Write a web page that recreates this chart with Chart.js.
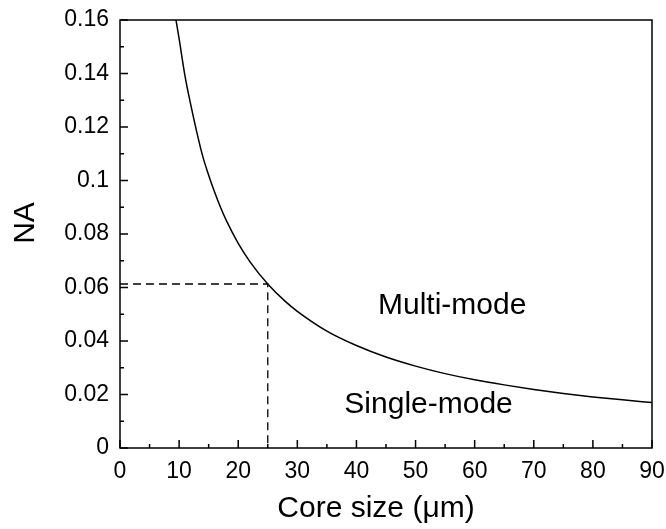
<!DOCTYPE html>
<html>
<head>
<meta charset="utf-8">
<script src="https://cdn.jsdelivr.net/npm/chart.js@4"></script>
<style>
  html, body { margin: 0; padding: 0; background: #fff; }
  #wrap { width: 666px; height: 529px; }
</style>
</head>
<body>
<div id="wrap"><canvas id="naChart" width="666" height="529"></canvas></div>
<script>
'use strict';
// values
var coreSize = [9.47, 10, 11, 12, 13, 14, 15, 16, 17, 18, 20, 22, 25, 28, 30, 35, 40, 45, 50, 55, 60, 65, 70, 75, 80, 85, 90];
var naValues = [0.160, 0.153, 0.139, 0.128, 0.118, 0.109, 0.102, 0.0957, 0.090, 0.085, 0.0765, 0.0696, 0.0613, 0.0547, 0.0511, 0.0437, 0.0383, 0.034, 0.0306, 0.0278, 0.0255, 0.0236, 0.0219, 0.0204, 0.0191, 0.018, 0.017];
var cutoffX = [0, 25, 25];
var cutoffY = [0.0613, 0.0613, 0];
var xTicks = [0, 10, 20, 30, 40, 50, 60, 70, 80, 90];
var yTicks = [0, 0.02, 0.04, 0.06, 0.08, 0.1, 0.12, 0.14, 0.16];
var regionNames = ['Multi-mode', 'Single-mode'];
var regionX = [56.2, 52.2];
var regionY = [0.0531, 0.0161];
var xTitle = 'Core size (μm)';
var yTitle = 'NA';

var FONT = 'Arial, "Liberation Sans", sans-serif';

function toPoints(xs, ys) {
  var pts = [];
  for (var i = 0; i < xs.length; i++) {
    pts.push({ x: xs[i], y: ys[i] });
  }
  return pts;
}

// box, inward ticks, axis titles and region labels
var framePlugin = {
  id: 'frame',
  afterDraw: function (chart) {
    var c = chart.ctx;
    var a = chart.chartArea;
    var xs = chart.scales.x;
    var ys = chart.scales.y;
    c.save();
    c.strokeStyle = '#000';
    c.lineWidth = 1.5;
    c.strokeRect(a.left, a.top, a.right - a.left, a.bottom - a.top);
    c.beginPath();
    for (var v = 0; v <= 90; v += 5) {
      var px = xs.getPixelForValue(v);
      var len = (v % 10 === 0) ? 8 : 4;
      c.moveTo(px, a.bottom);
      c.lineTo(px, a.bottom - len);
    }
    for (var k = 0; k <= 16; k++) {
      var py = ys.getPixelForValue(k / 100);
      var ylen = (k % 2 === 0) ? 8 : 4;
      c.moveTo(a.left, py);
      c.lineTo(a.left + ylen, py);
    }
    c.stroke();
    c.fillStyle = '#000';
    c.font = '30px ' + FONT;
    c.textAlign = 'center';
    c.textBaseline = 'middle';
    for (var i = 0; i < regionNames.length; i++) {
      c.fillText(regionNames[i], xs.getPixelForValue(regionX[i]), ys.getPixelForValue(regionY[i]));
    }
    // axis titles
    c.fillText(xTitle, 376, 509);
    c.translate(26, 223);
    c.rotate(-Math.PI / 2);
    c.fillText(yTitle, 0, 0);
    c.restore();
  }
};

var ctx = document.getElementById('naChart').getContext('2d');
var chart = new Chart(ctx, {
  type: 'scatter',
  data: {
    datasets: [{
      data: toPoints(coreSize, naValues),
      showLine: true,
      borderColor: '#000',
      borderWidth: 1.5,
      pointRadius: 0,
      cubicInterpolationMode: 'monotone',
      fill: false
    }, {
      data: toPoints(cutoffX, cutoffY),
      showLine: true,
      borderColor: '#000',
      borderWidth: 1.3,
      borderDash: [8, 5],
      pointRadius: 0,
      tension: 0,
      fill: false
    }]
  },
  plugins: [framePlugin],
  options: {
    responsive: false,
    animation: false,
    layout: { padding: { top: 20, right: 14, left: 0, bottom: 0 } },
    plugins: {
      legend: { display: false },
      tooltip: { enabled: false }
    },
    scales: {
      x: {
        type: 'linear',
        min: 0,
        max: 90,
        afterBuildTicks: function (scale) {
          scale.ticks = xTicks.map(function (v) { return { value: v }; });
        },
        afterFit: function (scale) {
          scale.height = 81;
          scale.paddingLeft = 0;
          scale.paddingRight = 0;
        },
        grid: { display: false, drawTicks: false },
        border: { display: false },
        ticks: { color: '#000', font: { family: FONT, size: 23 }, padding: 10, maxRotation: 0 }
      },
      y: {
        type: 'linear',
        min: 0,
        max: 0.16,
        afterBuildTicks: function (scale) {
          scale.ticks = yTicks.map(function (v) { return { value: v }; });
        },
        afterFit: function (scale) {
          scale.width = 120;
          scale.paddingTop = 0;
          scale.paddingBottom = 0;
        },
        grid: { display: false, drawTicks: false },
        border: { display: false },
        ticks: {
          color: '#000',
          font: { family: FONT, size: 23 },
          padding: 11,
          callback: function (v) { return String(v); }
        }
      }
    }
  }
});
</script>
</body>
</html>
